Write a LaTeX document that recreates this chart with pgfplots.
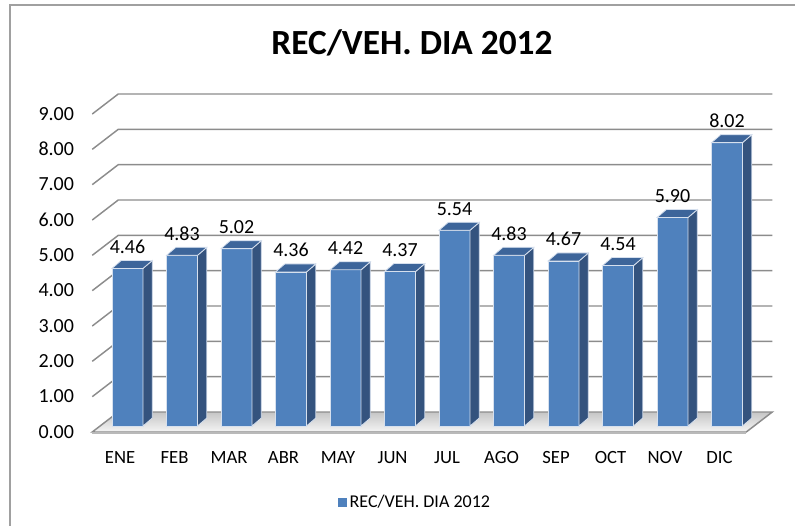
\documentclass[border=0pt]{standalone}
\usepackage{pgfplots}
\pgfplotsset{compat=1.18}
\usepackage{pgfplotstable}
\usepackage{fontspec}
\setmainfont{Carlito}
\definecolor{barfront}{HTML}{4F81BD}
\definecolor{barside}{HTML}{34537E}
\definecolor{bartop}{HTML}{3D659A}
\definecolor{baredge}{HTML}{D6E0EE}
\definecolor{gridc}{HTML}{8C8C8C}
\definecolor{framec}{HTML}{A0A0A0}
\pgfdeclareplotmark{empty}{}
\pgfplotstableread{
x v
0 4.46
1 4.83
2 5.02
3 4.36
4 4.42
5 4.37
6 5.54
7 4.83
8 4.67
9 4.54
10 5.90
11 8.02
}\datatable
\begin{document}
\begin{tikzpicture}
\path[use as bounding box] (-75.19pt,-75pt) rectangle (521.06pt,319.5pt);
\draw[framec, line width=1.2pt] (521.06pt,315.75pt) -- (-67.69pt,315.75pt) -- (-67.69pt,-75pt);
\node[font=\bfseries\fontsize{26.5}{30}\selectfont] at (233.8pt,287.25pt) {REC/VEH. DIA 2012};
\begin{axis}[
  at={(0,0)}, anchor=south west,
  scale only axis, width=490.5pt, height=238.5pt,
  xmin=-0.5, xmax=11.5, ymin=0, ymax=9,
  axis line style={draw=none},
  major tick length=0pt,
  xtick={0,...,11},
  xticklabels={ENE,FEB,MAR,ABR,MAY,JUN,JUL,AGO,SEP,OCT,NOV,DIC},
  ytick={0,...,9},
  /pgf/number format/assume math mode=true,
  xticklabel style={font=\fontsize{14}{16}\selectfont},
  yticklabel style={font=\fontsize{15}{17}\selectfont, /pgf/number format/fixed, /pgf/number format/fixed zerofill, /pgf/number format/precision=2, anchor=base east, yshift=-9.2pt, xshift=-19.5pt, inner sep=0pt},
  xticklabel style={anchor=base, yshift=-27.75pt, xshift=-5.6pt, inner sep=0pt},
  clip=false,
  legend style={draw=none, fill=none, at={(0.3635,-0.239)}, anchor=west, font=\fontsize{13.5}{16}\selectfont, inner sep=0pt},
]
% floor
\fill[top color=gray!45, bottom color=gray!8]
  ([xshift=-6pt,yshift=-4.5pt]axis cs:-0.5,0) -- ([xshift=-6pt,yshift=-4.5pt]axis cs:11.5,0) --
  ([xshift=13.5pt,yshift=10.5pt]axis cs:11.5,0) -- ([xshift=13.5pt,yshift=10.5pt]axis cs:-0.5,0) -- cycle;
\draw[gridc, line width=1.1pt]
  ([xshift=-6pt,yshift=-4.5pt]axis cs:-0.5,0) -- ([xshift=-6pt,yshift=-4.5pt]axis cs:11.5,0) --
  ([xshift=13.5pt,yshift=10.5pt]axis cs:11.5,0) -- ([xshift=13.5pt,yshift=10.5pt]axis cs:-0.5,0) -- cycle;
\draw[gray!55, line width=1.5pt]
  ([xshift=-6pt,yshift=-5.5pt]axis cs:-0.5,0) -- ([xshift=-6pt,yshift=-5.5pt]axis cs:11.5,0);
% back wall grid lines
\pgfplotsinvokeforeach{1,...,9}{
  \draw[gridc, line width=1.1pt]
    ([xshift=-6pt,yshift=-4.5pt]axis cs:-0.5,#1) -- ([xshift=13.5pt,yshift=10.5pt]axis cs:-0.5,#1) --
    ([xshift=13.5pt,yshift=10.5pt]axis cs:11.5,#1);
}
\addplot[ybar, bar width=23.25pt, fill=barfront, draw=baredge, line width=0.6pt,
  nodes near coords={\pgfmathprintnumber[fixed,fixed zerofill,precision=2]{\pgfplotspointmeta}},
  every node near coord/.append style={font=\fontsize{15}{17}\selectfont, anchor=base, yshift=11.25pt, inner sep=0pt},
  legend image code/.code={\fill[barfront] (0pt,-3pt) rectangle (6pt,3pt);}]
  table[x=x,y=v]{\datatable};
\addlegendentry{REC/VEH. DIA 2012}
\addplot[forget plot, scatter, only marks, mark=empty,
  visualization depends on={\thisrow{v} \as \val},
  scatter/@pre marker code/.code={
    \pgfmathsetmacro\h{\val*26.5}
    \filldraw[fill=barside, draw=baredge, line width=0.6pt]
      (11.625pt,0pt) -- (11.625pt,-\h pt) -- (18.625pt,-\h pt+6pt) -- (18.625pt,6pt) -- cycle;
    \filldraw[fill=bartop, draw=baredge, line width=0.6pt]
      (-11.625pt,0pt) -- (11.625pt,0pt) -- (18.625pt,6pt) -- (-4.625pt,6pt) -- cycle;
  },
  scatter/@post marker code/.code={}]
  table[x=x,y=v]{\datatable};
\end{axis}
\end{tikzpicture}
\end{document}
